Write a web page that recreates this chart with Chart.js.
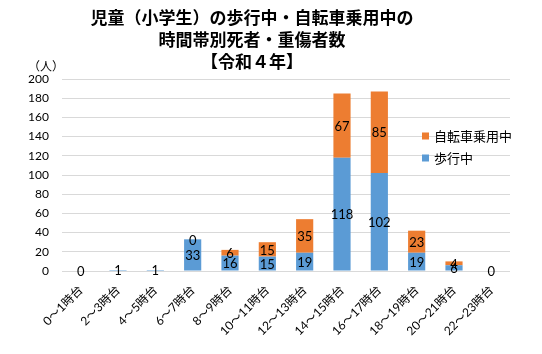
<!DOCTYPE html>
<html>
<head>
<meta charset="utf-8">
<script src="https://cdn.jsdelivr.net/npm/chart.js@4.4.0/dist/chart.umd.min.js"></script>
<style>
  html, body { margin: 0; padding: 0; background: #fff; }
  #wrap { width: 542px; height: 354px; }
</style>
</head>
<body>
<div id="wrap"><canvas id="grafico"></canvas></div>
<script>
// 時間帯別 (児童)
var categorias = ["0～1時台", "2～3時台", "4～5時台", "6～7時台", "8～9時台", "10～11時台",
                  "12～13時台", "14～15時台", "16～17時台", "18～19時台", "20～21時台", "22～23時台"];
var hokou = [0, 1, 1, 33, 16, 15, 19, 118, 102, 19, 6, 0];
// null = ラベルなし (値は0)
var jitensha = [null, null, null, 0, 6, 15, 35, 67, 85, 23, 4, null];
var tituloLinhas = ["児童（小学生）の歩行中・自転車乗用中の", "時間帯別死者・重傷者数", "【令和４年】"];

var FONTE = "Lato, 'Noto Sans CJK JP', sans-serif";
var AZUL = "#5B9BD5";
var LARANJA = "#ED7D31";

// titulo, unidade e legenda
var extras = {
    id: "extras",
    afterDraw: function (chart) {
        var ctx = chart.ctx;
        ctx.save();
        ctx.fillStyle = "#000";
        ctx.textAlign = "center";
        ctx.textBaseline = "middle";
        ctx.font = "bold 17px 'Noto Sans CJK JP', sans-serif";
        tituloLinhas.forEach(function (t, i) {
            ctx.fillText(t, 252, 18 + i * 22);
        });
        ctx.font = "12px 'Noto Sans CJK JP', sans-serif";
        ctx.fillText("（人）", 46, 66);

        // legenda (ordem invertida como no Excel)
        ctx.textAlign = "left";
        ctx.font = "13px 'Noto Sans CJK JP', sans-serif";
        var itens = chart.data.datasets.slice().reverse();
        itens.forEach(function (ds, i) {
            var y = 136 + i * 22;
            ctx.fillStyle = ds.backgroundColor;
            ctx.fillRect(422, y - 3.5, 7, 7);
            ctx.fillStyle = "#000";
            ctx.fillText(ds.label, 434, y);
        });
        ctx.restore();
    },
    afterDatasetsDraw: function (chart) {
        var ctx = chart.ctx;
        ctx.save();
        ctx.fillStyle = "#000";
        ctx.textAlign = "center";
        ctx.textBaseline = "middle";
        ctx.font = "13px " + FONTE;
        chart.data.datasets.forEach(function (ds, i) {
            var meta = chart.getDatasetMeta(i);
            meta.data.forEach(function (bar, j) {
                var v = ds.data[j];
                if (v === null || v === undefined) return;
                var p = bar.getProps(["x", "y", "base"], true);
                ctx.fillText(String(v), p.x, (p.y + p.base) / 2 + 1);
            });
        });
        ctx.restore();
    }
};

var grafico = document.getElementById("grafico");

var chart = new Chart(grafico, {
    type: "bar",
    data: {
        labels: categorias,
        datasets: [
            { label: "歩行中", data: hokou, backgroundColor: AZUL,
              barPercentage: 0.46, categoryPercentage: 1 },
            { label: "自転車乗用中", data: jitensha, backgroundColor: LARANJA,
              barPercentage: 0.46, categoryPercentage: 1 }
        ]
    },
    options: {
        responsive: true,
        maintainAspectRatio: false,
        animation: false,
        layout: { padding: { left: 0, top: 79, right: 32, bottom: 0 } },
        plugins: {
            legend: { display: false },
            title: { display: false },
            tooltip: { enabled: false }
        },
        scales: {
            x: {
                stacked: true,
                grid: { display: false },
                border: { display: false },
                ticks: {
                    color: "#000",
                    font: { family: FONTE, size: 12 },
                    minRotation: 45,
                    maxRotation: 45,
                    padding: 4,
                    autoSkip: false
                },
                afterFit: function (scale) { scale.height = 83; }
            },
            y: {
                stacked: true,
                min: 0,
                max: 200,
                grid: { color: "#d9d9d9", lineWidth: 1, drawTicks: false },
                border: { display: false },
                ticks: {
                    stepSize: 20,
                    color: "#000",
                    font: { family: FONTE, size: 12 },
                    padding: 13
                },
                afterFit: function (scale) { scale.width = 62; }
            }
        }
    },
    plugins: [extras]
});
</script>
</body>
</html>
